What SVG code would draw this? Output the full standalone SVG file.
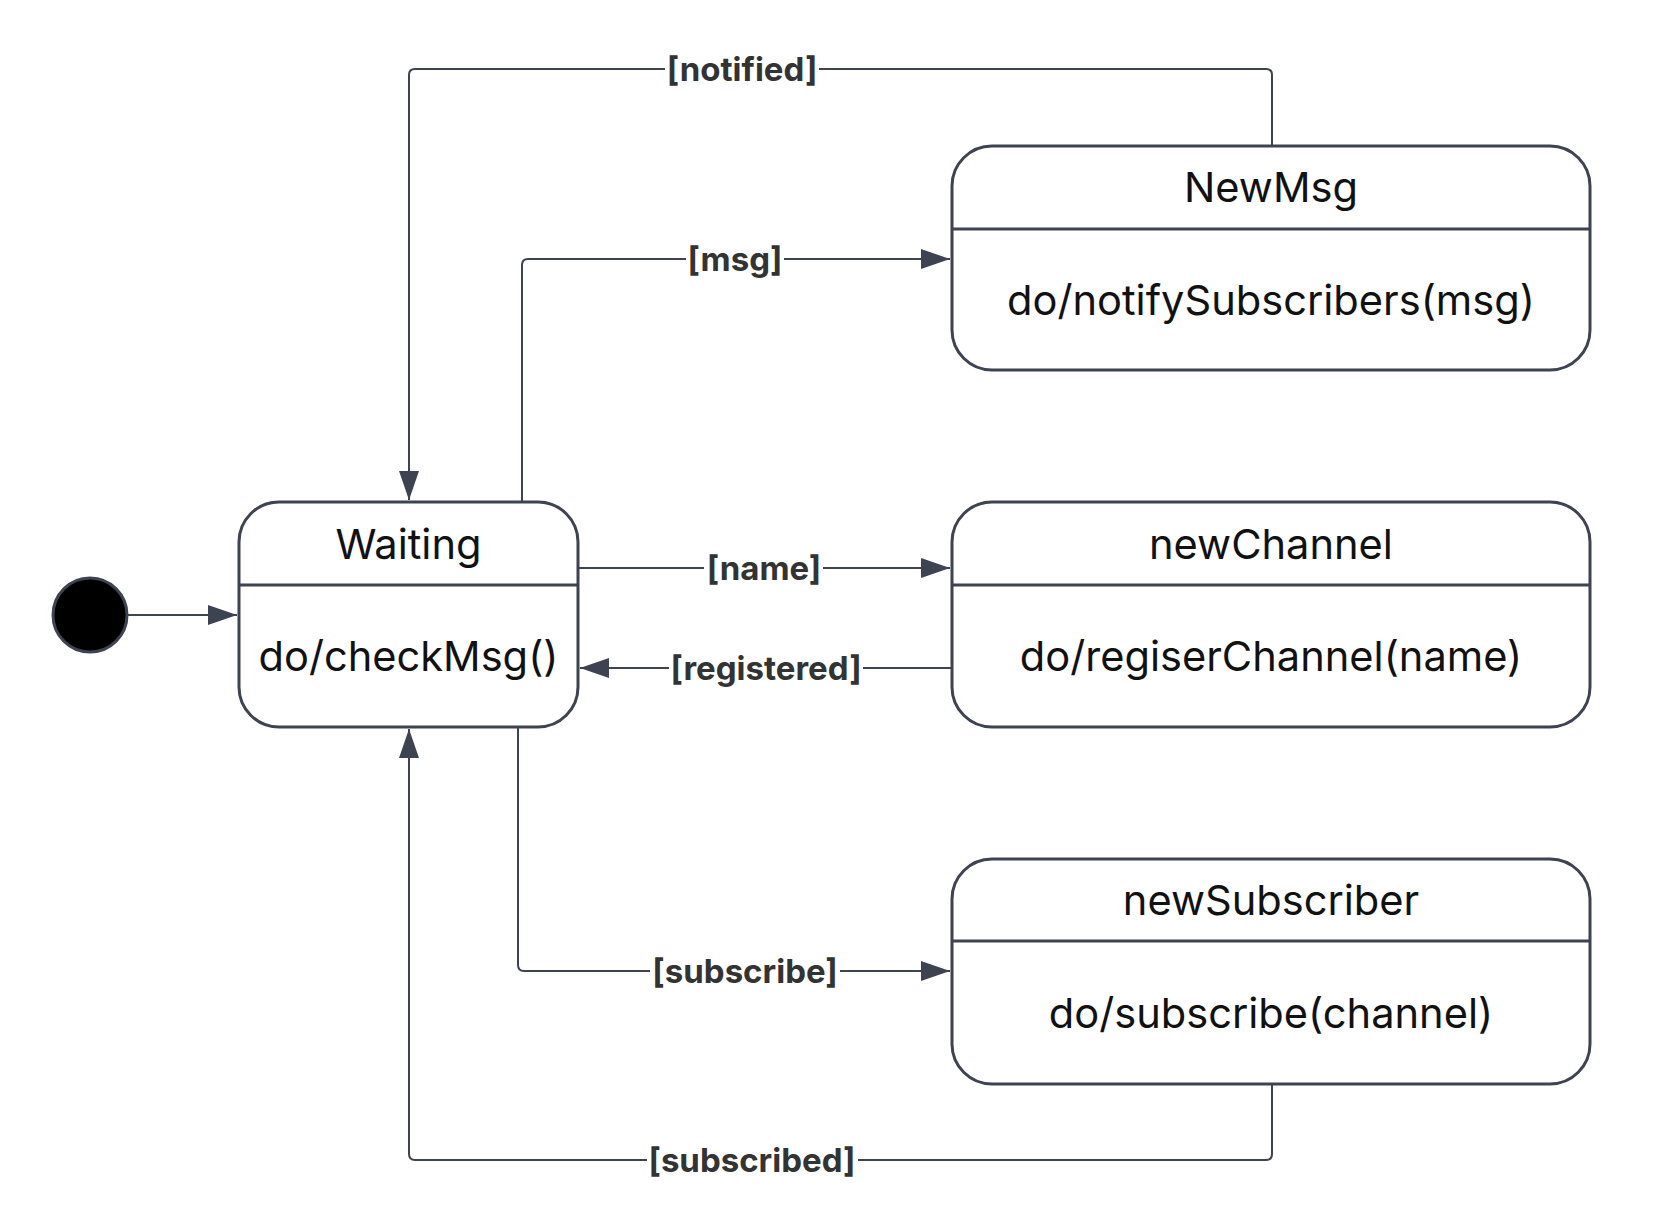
<svg xmlns="http://www.w3.org/2000/svg" width="1659" height="1231" viewBox="0 0 1659 1231">
<style>
.box{fill:#fff;stroke:#3d4350;stroke-width:3}
.div{stroke:#3d4350;stroke-width:3}
.t{font-family:Inter,"Liberation Sans",sans-serif;font-size:41.6px;fill:#111;text-anchor:middle}
.edge{fill:none;stroke:#3d4350;stroke-width:2}
.lbg{fill:#fff}
.lbl{font-family:Inter,"Liberation Sans",sans-serif;font-size:33px;font-weight:bold;fill:#333;text-anchor:middle}
</style>
<defs>
<marker id="arr" markerUnits="userSpaceOnUse" markerWidth="29" markerHeight="20" refX="29" refY="10" orient="auto">
<path d="M0,0 L29,10 L0,20 z" fill="#3d4350"/>
</marker>
</defs>
<rect width="1659" height="1231" fill="#fff"/>
<g id="connectors">
<path class="edge" d="M128,615 H237" marker-end="url(#arr)"/>
<path class="edge" d="M1272,146 V75 Q1272,69 1266,69 H415 Q409,69 409,75 V500" marker-end="url(#arr)"/>
<path class="edge" d="M522,502 V265 Q522,259 528,259 H950" marker-end="url(#arr)"/>
<path class="edge" d="M578,568 H950" marker-end="url(#arr)"/>
<path class="edge" d="M952,668 H580" marker-end="url(#arr)"/>
<path class="edge" d="M518,727 V965 Q518,971 524,971 H950" marker-end="url(#arr)"/>
<path class="edge" d="M1272,1084 V1154 Q1272,1160 1266,1160 H415 Q409,1160 409,1154 V729" marker-end="url(#arr)"/>
<g id="labels">
<rect class="lbg" x="665" y="50" width="154" height="38"/>
<text class="lbl" x="742" y="81">[notified]</text>
<rect class="lbg" x="686" y="240" width="98" height="38"/>
<text class="lbl" x="735" y="271">[msg]</text>
<rect class="lbg" x="704" y="549" width="119" height="38"/>
<text class="lbl" x="764" y="580">[name]</text>
<rect class="lbg" x="669" y="649" width="194" height="38"/>
<text class="lbl" x="766" y="680">[registered]</text>
<rect class="lbg" x="650" y="952" width="190" height="38"/>
<text class="lbl" x="745" y="983">[subscribe]</text>
<rect class="lbg" x="647" y="1141" width="211" height="38"/>
<text class="lbl" x="752" y="1172">[subscribed]</text>
</g>
</g>
<g id="start">
<circle cx="90" cy="615" r="37" fill="#000" stroke="#3d4350" stroke-width="3"/>
</g>
<g id="Waiting">
<rect class="box" x="239" y="502" width="339" height="225" rx="40" ry="40"/>
<line class="div" x1="239" y1="585" x2="578" y2="585"/>
<text class="t" x="408.5" y="559">Waiting</text>
<text class="t" x="408.5" y="671">do/checkMsg()</text>
</g>
<g id="NewMsg">
<rect class="box" x="952" y="146" width="638" height="224" rx="40" ry="40"/>
<line class="div" x1="952" y1="229" x2="1590" y2="229"/>
<text class="t" x="1271" y="202">NewMsg</text>
<text class="t" x="1271" y="315">do/notifySubscribers(msg)</text>
</g>
<g id="newChannel">
<rect class="box" x="952" y="502" width="638" height="225" rx="40" ry="40"/>
<line class="div" x1="952" y1="585" x2="1590" y2="585"/>
<text class="t" x="1271" y="559">newChannel</text>
<text class="t" x="1271" y="671">do/regiserChannel(name)</text>
</g>
<g id="newSubscriber">
<rect class="box" x="952" y="859" width="638" height="225" rx="40" ry="40"/>
<line class="div" x1="952" y1="941" x2="1590" y2="941"/>
<text class="t" x="1271" y="915">newSubscriber</text>
<text class="t" x="1271" y="1028">do/subscribe(channel)</text>
</g>
</svg>
